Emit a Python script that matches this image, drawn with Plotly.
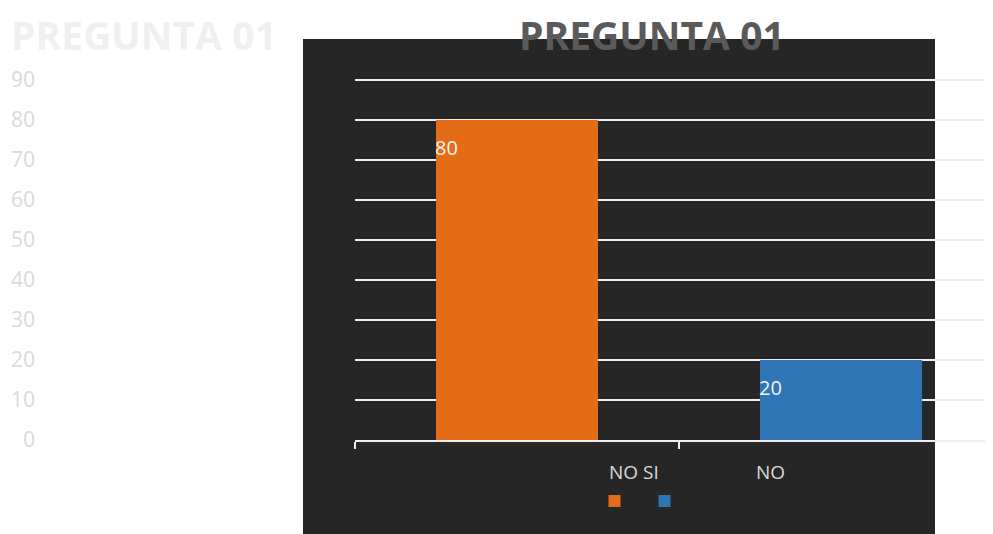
import plotly.graph_objects as go

#______________ Data ______________

title_text = "PREGUNTA 01"
categories = ["SI", "NO"]
values = [80, 20]
bar_colors = ["#E46C16", "#2E75B6"]
cat_labels = ["NO SI", "NO"]
y_ticks = [0, 10, 20, 30, 40, 50, 60, 70, 80, 90]

FONT = "Open Sans"

#______________ Geometry (window pixels, page has an 8px body margin) ______________

OFF = 8
W, H = 993 - OFF, 534 - OFF
L = 355 - OFF
T = 76 - OFF          # a little headroom so the 90 gridline is drawn
B = H - (440 - OFF)
R = 0
pw, ph = W - L - R, H - T - B
y_top = 90 * ph / (ph - 4)


def px_x(px):
    return (px - OFF - L) / pw


def px_y(py):
    return (H - B - (py - OFF)) / ph


fig = go.Figure()

# one trace per category so the legend gets a square for each
for i, cat in enumerate(categories):
    fig.add_trace(go.Bar(
        x=[i], y=[values[i]], name=" ",
        marker=dict(color=bar_colors[i], line=dict(width=0)),
        width=0.5, showlegend=True,
    ))

# data labels, top-left inside the bar
for i, v in enumerate(values):
    fig.add_annotation(
        x=i - 0.25, y=v, xref="x", yref="y", text=str(v), showarrow=False,
        xanchor="left", yanchor="top", yshift=-12, xshift=-3,
        font=dict(family=FONT, size=20, color="#f2f2f2"),
    )

# category labels below the axis
label_pos = [0.361, 0.781]
for pos, lab in zip(label_pos, cat_labels):
    fig.add_annotation(
        x=pos, y=0, xref="x", yref="y", text=lab, showarrow=False,
        yanchor="middle", yshift=-32,
        font=dict(family=FONT, size=19, color="#d9d9d9"),
    )

# dark overlay panel
fig.add_shape(
    type="rect", xref="paper", yref="paper",
    x0=px_x(303), x1=px_x(935), y0=px_y(545), y1=px_y(39),
    fillcolor="#262626", line=dict(width=0), layer="below",
)

# faded titles
fig.add_annotation(
    x=px_x(9), y=px_y(34.5), xref="paper", yref="paper",
    text="<b>" + title_text + "</b>",
    showarrow=False, xanchor="left", yanchor="middle",
    font=dict(family=FONT, size=39, color="#f0f0f0"),
)
fig.add_annotation(
    x=px_x(652), y=px_y(35), xref="paper", yref="paper",
    text="<b>" + title_text + "</b>",
    showarrow=False, xanchor="center", yanchor="middle",
    font=dict(family=FONT, size=39, color="#5a5a5a"),
)

fig.update_layout(
    width=W, height=H,
    margin=dict(l=L, r=R, t=T, b=B, autoexpand=False),
    paper_bgcolor="white", plot_bgcolor="rgba(0,0,0,0)",
    showlegend=True,
    legend=dict(
        orientation="h", x=px_x(594.5), y=px_y(501),
        xanchor="left", yanchor="middle",
        entrywidth=5, entrywidthmode="pixels",
        font=dict(family=FONT, size=12, color="#d9d9d9"),
        bgcolor="rgba(0,0,0,0)", itemclick=False,
    ),
    font=dict(family=FONT),
)

fig.update_xaxes(
    range=[-0.5, -0.5 + pw / 324], showgrid=False, zeroline=False,
    showline=True, linecolor="#eeeeee", linewidth=2,
    tickvals=[-0.5, 0.5], ticks="outside", ticklen=7, tickwidth=2,
    tickcolor="#eeeeee", showticklabels=False,
)
fig.update_yaxes(
    range=[0, y_top], tickvals=y_ticks, showgrid=True, gridcolor="#eeeeee",
    gridwidth=2, zeroline=False, showline=False,
    ticklabelstandoff=L - 28,
    tickfont=dict(family=FONT, size=21, color="#dadada"),
)

fig.write_html("out.html")
